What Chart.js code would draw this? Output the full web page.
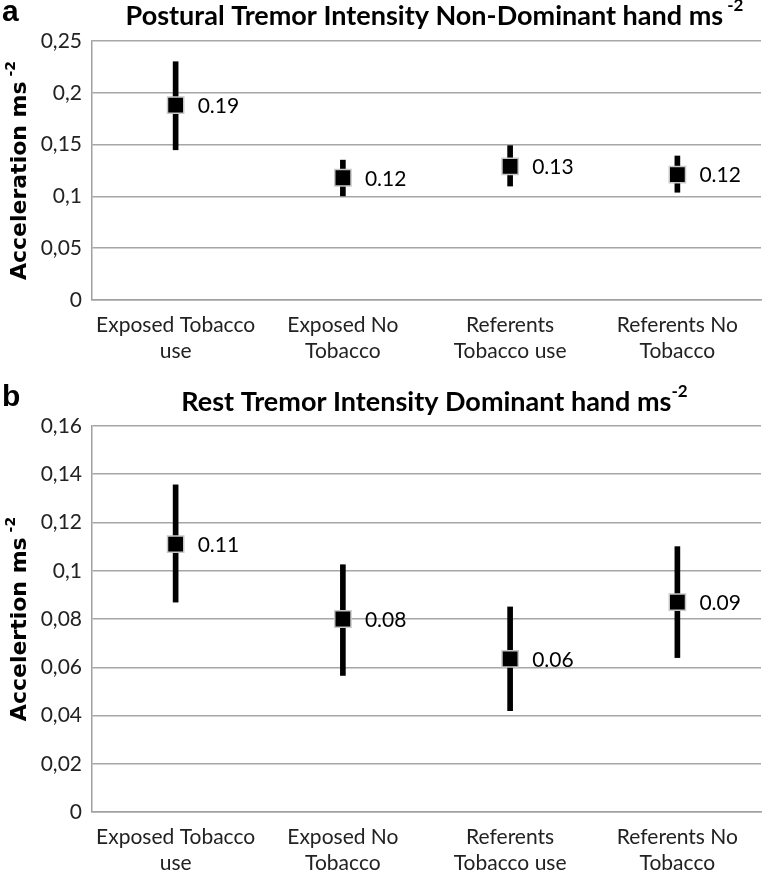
<!DOCTYPE html>
<html>
<head>
<meta charset="utf-8">
<script src="https://cdn.jsdelivr.net/npm/chart.js@4/dist/chart.umd.min.js"></script>
<style>
  body { margin: 0; background: #fff; }
  canvas { display: block; }
</style>
</head>
<body>
<canvas id="chartA" width="774" height="380"></canvas>
<canvas id="chartB" width="774" height="490"></canvas>
<script>
const categories = [['Exposed Tobacco', 'use'], ['Exposed No', 'Tobacco'], ['Referents', 'Tobacco use'], ['Referents No', 'Tobacco']];

// panel a: postural tremor, non-dominant hand
const posturalMean = [0.188, 0.118, 0.129, 0.121];
const posturalLow = [0.145, 0.1005, 0.110, 0.104];
const posturalHigh = [0.230, 0.135, 0.149, 0.139];
const posturalLabels = ['0.19', '0.12', '0.13', '0.12'];
const posturalAxis = { min: 0, max: 0.25, step: 0.05 };

// panel b: rest tremor, dominant hand
const restMean = [0.111, 0.080, 0.0635, 0.087];
const restLow = [0.087, 0.0566, 0.042, 0.064];
const restHigh = [0.1356, 0.1025, 0.085, 0.110];
const restLabels = ['0.11', '0.08', '0.06', '0.09'];
const restAxis = { min: 0, max: 0.16, step: 0.02 };

const FONT = 'Lato, "Open Sans", sans-serif';

function drawSup(ctx, text, sup, cx, cy, size, family) {
    const supSize = Math.round(size * 0.62);
    ctx.font = 'bold ' + size + 'px ' + family;
    const w1 = ctx.measureText(text).width;
    ctx.font = 'bold ' + supSize + 'px ' + family;
    const w2 = ctx.measureText(sup).width;
    const x0 = cx - (w1 + w2) / 2;
    ctx.textAlign = 'left';
    ctx.textBaseline = 'middle';
    ctx.font = 'bold ' + size + 'px ' + family;
    ctx.fillText(text, x0, cy);
    ctx.font = 'bold ' + supSize + 'px ' + family;
    ctx.fillText(sup, x0 + w1, cy - size * 0.38);
}

const textPlugin = {
    id: 'texts',
    afterDraw(chart, args, opts) {
        const ctx = chart.ctx;
        const area = chart.chartArea;
        ctx.save();
        ctx.fillStyle = '#000';
        // value labels next to markers
        const meta = chart.getDatasetMeta(1);
        ctx.font = '21px ' + FONT;
        ctx.textAlign = 'left';
        ctx.textBaseline = 'middle';
        meta.data.forEach((pt, i) => {
            ctx.fillText(opts.labels[i], pt.x + 22, pt.y + 1);
        });
        // panel letter
        ctx.font = 'bold 30px "Liberation Sans", Arial, sans-serif';
        ctx.fillText(opts.letter, 2, opts.letterY);
        // title
        drawSup(ctx, opts.title, opts.titleSup, (area.left + area.right) / 2 + 8, opts.titleY, 27, FONT);
        // y axis title
        ctx.translate(20, (area.top + area.bottom) / 2);
        ctx.rotate(-Math.PI / 2);
        drawSup(ctx, opts.yTitle, ' -2', 0, 0, 22, '"DejaVu Sans", Verdana, sans-serif');
        ctx.restore();
    }
};

function buildChart(id, mean, low, high, labels, axis, opts, padTop, xHeight) {
    return new Chart(document.getElementById(id), {
        type: 'bar',
        data: {
            labels: categories,
            datasets: [{
                type: 'bar',
                data: low.map((v, i) => [v, high[i]]),
                backgroundColor: '#000',
                barThickness: 5,
                order: 1
            }, {
                type: 'line',
                data: mean,
                showLine: false,
                pointStyle: 'rect',
                pointRadius: 11.5,
                backgroundColor: '#000',
                borderColor: '#c8c8c8',
                borderWidth: 1.5,
                order: 0
            }]
        },
        options: {
            responsive: false,
            animation: false,
            layout: { padding: { top: padTop, right: 4, left: 0, bottom: 0 } },
            plugins: {
                legend: { display: false },
                tooltip: { enabled: false },
                texts: opts
            },
            scales: {
                x: {
                    grid: { display: false, drawTicks: false },
                    border: { color: '#a0a0a0', width: 1.5 },
                    ticks: { color: '#222', font: { family: FONT, size: 21, lineHeight: 1.24 }, padding: 12, maxRotation: 0 },
                    afterFit(scale) { scale.height = xHeight; }
                },
                y: {
                    min: axis.min,
                    max: axis.max,
                    grid: { color: '#a6a6a6', lineWidth: 1.5, drawTicks: false },
                    border: { color: '#a0a0a0', width: 1.5 },
                    ticks: {
                        stepSize: axis.step,
                        color: '#222',
                        padding: 10,
                        font: { family: FONT, size: 21 },
                        callback: v => String(+v.toFixed(2)).replace('.', ',')
                    },
                    afterFit(scale) { scale.width = 92; }
                }
            }
        },
        plugins: [textPlugin]
    });
}

buildChart('chartA', posturalMean, posturalLow, posturalHigh, posturalLabels, posturalAxis, {
    labels: posturalLabels, letter: 'a', letterY: 13, titleY: 16,
    title: 'Postural Tremor Intensity Non-Dominant hand ms', titleSup: ' -2',
    yTitle: 'Acceleration ms'
}, 41, 80);

buildChart('chartB', restMean, restLow, restHigh, restLabels, restAxis, {
    labels: restLabels, letter: 'b', letterY: 18, titleY: 22,
    title: 'Rest Tremor Intensity Dominant hand ms', titleSup: '-2',
    yTitle: 'Accelertion ms'
}, 46, 58);
</script>
</body>
</html>
